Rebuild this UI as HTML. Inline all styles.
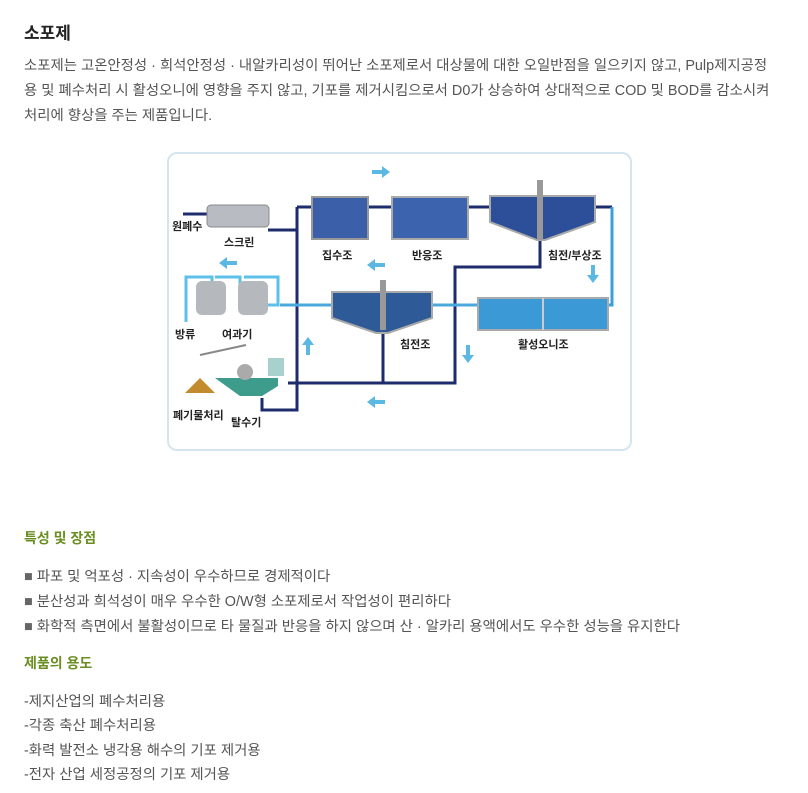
<!DOCTYPE html>
<html><head><meta charset="utf-8"><style>
body{margin:0;width:808px;height:793px;background:#fff;font-family:"Liberation Sans","Noto Sans CJK KR",sans-serif;color:#555;position:relative;overflow:hidden}
.t{position:absolute;white-space:nowrap}
.p{font-size:14.4px;left:24px}
.h{font-size:14px;font-weight:bold;color:#6b8e23;left:24px}
.lb{position:absolute;font-size:11px;color:#222;white-space:nowrap;font-weight:bold}
.sq{color:#666}
</style></head><body>
<div class="t" style="left:24px;top:19px;font-size:17px;font-weight:bold;color:#222">소포제</div>
<div class="t p" style="top:54px">소포제는 고온안정성 · 희석안정성 · 내알카리성이 뛰어난 소포제로서 대상물에 대한 오일반점을 일으키지 않고, Pulp제지공정</div>
<div class="t p" style="top:79px">용 및 폐수처리 시 활성오니에 영향을 주지 않고, 기포를 제거시킴으로서 D0가 상승하여 상대적으로 COD 및 BOD를 감소시켜</div>
<div class="t p" style="top:104px">처리에 향상을 주는 제품입니다.</div>

<div style="position:absolute;left:167px;top:152px;width:461px;height:295px;border:2px solid #d3e6ef;border-radius:10px"></div>
<svg style="position:absolute;left:0;top:0" width="808" height="793">
<g fill="none" stroke-width="3">
<path d="M268 230H297M297 207V410H262V398M297 207H612" stroke="#1e2c6e"/>
<path d="M612 207V305H600" stroke="#3aa0d8"/>
<path d="M540 240V267H455V383H288M383 330V383" stroke="#1e2c6e"/>
<path d="M280 305H480" stroke="#4aa8dc"/>
<path d="M186 322V277H212V305M215 277H240V305M244 277H278V305H268" stroke="#5cc0ea"/>
<path d="M183 214H207" stroke="#1e2c6e"/>
</g>
<g fill="#5ab8e2">
<path d="M372 170h10v-4l8 6-8 6v-4h-10z"/>
<path d="M385 263h-10v-4l-8 6 8 6v-4h10z"/>
<path d="M385 400h-10v-4l-8 6 8 6v-4h10z"/>
<path d="M237 261h-10v-4l-8 6 8 6v-4h10z"/>
<path d="M591 265v10h-4l6 8 6-8h-4v-10z"/>
<path d="M466 345v10h-4l6 8 6-8h-4v-10z"/>
<path d="M306 355v-10h-4l6-8 6 8h-4v10z"/>
</g>
<rect x="207" y="205" width="62" height="22" rx="4" fill="#b8bcc2" stroke="#888"/>
<rect x="312" y="197" width="56" height="42" fill="#3b5fa8" stroke="#999" stroke-width="2"/>
<rect x="392" y="197" width="76" height="42" fill="#3c63ad" stroke="#aaa" stroke-width="2"/>
<path d="M490 196H595V222L545 240H537L490 222Z" fill="#2d4f9a" stroke="#aaa" stroke-width="2"/>
<rect x="537" y="180" width="6" height="60" fill="#999"/>
<path d="M332 292H432V318L388 333H376L332 318Z" fill="#2f5a98" stroke="#aaa" stroke-width="2"/>
<rect x="380" y="280" width="6" height="50" fill="#999"/>
<rect x="478" y="298" width="130" height="32" fill="#3b9ad6" stroke="#aaa" stroke-width="2"/>
<line x1="543" y1="298" x2="543" y2="330" stroke="#ccc" stroke-width="2"/>
<rect x="196" y="281" width="30" height="34" rx="6" fill="#b5b8bc"/>
<rect x="238" y="281" width="30" height="34" rx="6" fill="#b5b8bc"/>
<path d="M215 378L278 378V386L262 396L240 396Z" fill="#3d9c8c"/>
<rect x="268" y="358" width="16" height="18" fill="#a8d0cc"/>
<circle cx="245" cy="372" r="8" fill="#aaa"/>
<path d="M200 355L246 345" stroke="#888" stroke-width="2"/>
<path d="M185 393L200 378L215 393Z" fill="#c38a2e"/>
</svg>
<div class="lb" style="left:172px;top:218px">원폐수</div>
<div class="lb" style="left:224px;top:234px">스크린</div>
<div class="lb" style="left:322px;top:247px">집수조</div>
<div class="lb" style="left:412px;top:247px">반응조</div>
<div class="lb" style="left:548px;top:247px">침전/부상조</div>
<div class="lb" style="left:175px;top:326px">방류</div>
<div class="lb" style="left:222px;top:326px">여과기</div>
<div class="lb" style="left:400px;top:336px">침전조</div>
<div class="lb" style="left:518px;top:336px">활성오니조</div>
<div class="lb" style="left:173px;top:407px">폐기물처리</div>
<div class="lb" style="left:231px;top:414px">탈수기</div>

<div class="t h" style="top:528px">특성 및 장점</div>
<div class="t p" style="top:565px"><span class="sq">■</span> 파포 및 억포성 · 지속성이 우수하므로 경제적이다</div>
<div class="t p" style="top:590px"><span class="sq">■</span> 분산성과 희석성이 매우 우수한 O/W형 소포제로서 작업성이 편리하다</div>
<div class="t p" style="top:615px"><span class="sq">■</span> 화학적 측면에서 불활성이므로 타 물질과 반응을 하지 않으며 산 · 알카리 용액에서도 우수한 성능을 유지한다</div>
<div class="t h" style="top:653px">제품의 용도</div>
<div class="t p" style="top:690px">-제지산업의 폐수처리용</div>
<div class="t p" style="top:714px">-각종 축산 폐수처리용</div>
<div class="t p" style="top:739px">-화력 발전소 냉각용 해수의 기포 제거용</div>
<div class="t p" style="top:763px">-전자 산업 세정공정의 기포 제거용</div>
</body></html>
